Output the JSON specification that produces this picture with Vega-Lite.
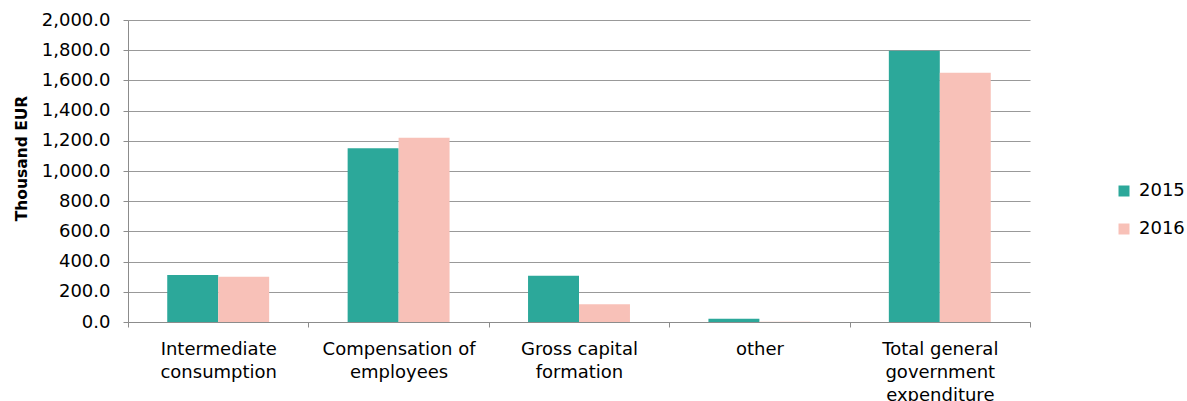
{
  "$schema": "https://vega.github.io/schema/vega-lite/v6.json",
  "width": 902,
  "height": 302,
  "autosize": {"type": "none"},
  "padding": {"left": 128, "top": 20, "right": 157, "bottom": 79},
  "background": "white",
  "config": {
    "font": "DejaVu Sans",
    "view": {"stroke": null},
    "axis": {"labelFont": "DejaVu Sans", "titleFont": "DejaVu Sans", "labelColor": "#000", "titleColor": "#000"}
  },
  "data": {
    "values": [
      {"category": "Intermediate consumption", "year": "2015", "value": 311},
      {"category": "Intermediate consumption", "year": "2016", "value": 300},
      {"category": "Compensation of employees", "year": "2015", "value": 1151},
      {"category": "Compensation of employees", "year": "2016", "value": 1221},
      {"category": "Gross capital formation", "year": "2015", "value": 306},
      {"category": "Gross capital formation", "year": "2016", "value": 117},
      {"category": "other", "year": "2015", "value": 22},
      {"category": "other", "year": "2016", "value": 2},
      {"category": "Total general government expenditure", "year": "2015", "value": 1797},
      {"category": "Total general government expenditure", "year": "2016", "value": 1650}
    ]
  },
  "mark": {"type": "bar"},
  "encoding": {
    "x": {
      "field": "category",
      "type": "nominal",
      "sort": null,
      "scale": {"paddingInner": 0, "paddingOuter": 0},
      "axis": {
        "title": null,
        "labelAngle": 0,
        "tickBand": "extent",
        "domainColor": "#8c8c8c",
        "tickColor": "#8c8c8c",
        "tickSize": 5,
        "labelFontSize": 18,
        "labelPadding": 13,
        "labelLineHeight": 23,
        "labelBaseline": "top",
        "labelOverlap": false,
        "labelExpr": "datum.value == 'Intermediate consumption' ? ['Intermediate', 'consumption'] : datum.value == 'Compensation of employees' ? ['Compensation of', 'employees'] : datum.value == 'Gross capital formation' ? ['Gross capital', 'formation'] : datum.value == 'Total general government expenditure' ? ['Total general', 'government', 'expenditure'] : datum.value"
      }
    },
    "xOffset": {
      "field": "year",
      "type": "nominal",
      "scale": {"paddingInner": 0, "paddingOuter": 0.77}
    },
    "y": {
      "field": "value",
      "type": "quantitative",
      "scale": {"domain": [0, 2000]},
      "axis": {
        "title": "Thousand EUR",
        "titleFontSize": 15.5,
        "titleFontWeight": "bold",
        "titlePadding": 12,
        "titleY": 138,
        "format": ",.1f",
        "values": [0, 200, 400, 600, 800, 1000, 1200, 1400, 1600, 1800, 2000],
        "labelOverlap": false,
        "labelFontSize": 18,
        "labelPadding": 13,
        "tickSize": 5,
        "tickColor": "#8c8c8c",
        "domainColor": "#8c8c8c",
        "grid": true,
        "gridColor": "#999999",
        "gridWidth": 1
      }
    },
    "color": {
      "field": "year",
      "type": "nominal",
      "scale": {"domain": ["2015", "2016"], "range": ["#2ca89a", "#f8c1b8"]},
      "legend": {
        "title": null,
        "orient": "none",
        "legendX": 987,
        "legendY": 162,
        "symbolType": "square",
        "symbolSize": 121,
        "symbolStrokeWidth": 0,
        "labelFontSize": 18,
        "labelOffset": 6,
        "rowPadding": 20
      }
    }
  }
}
